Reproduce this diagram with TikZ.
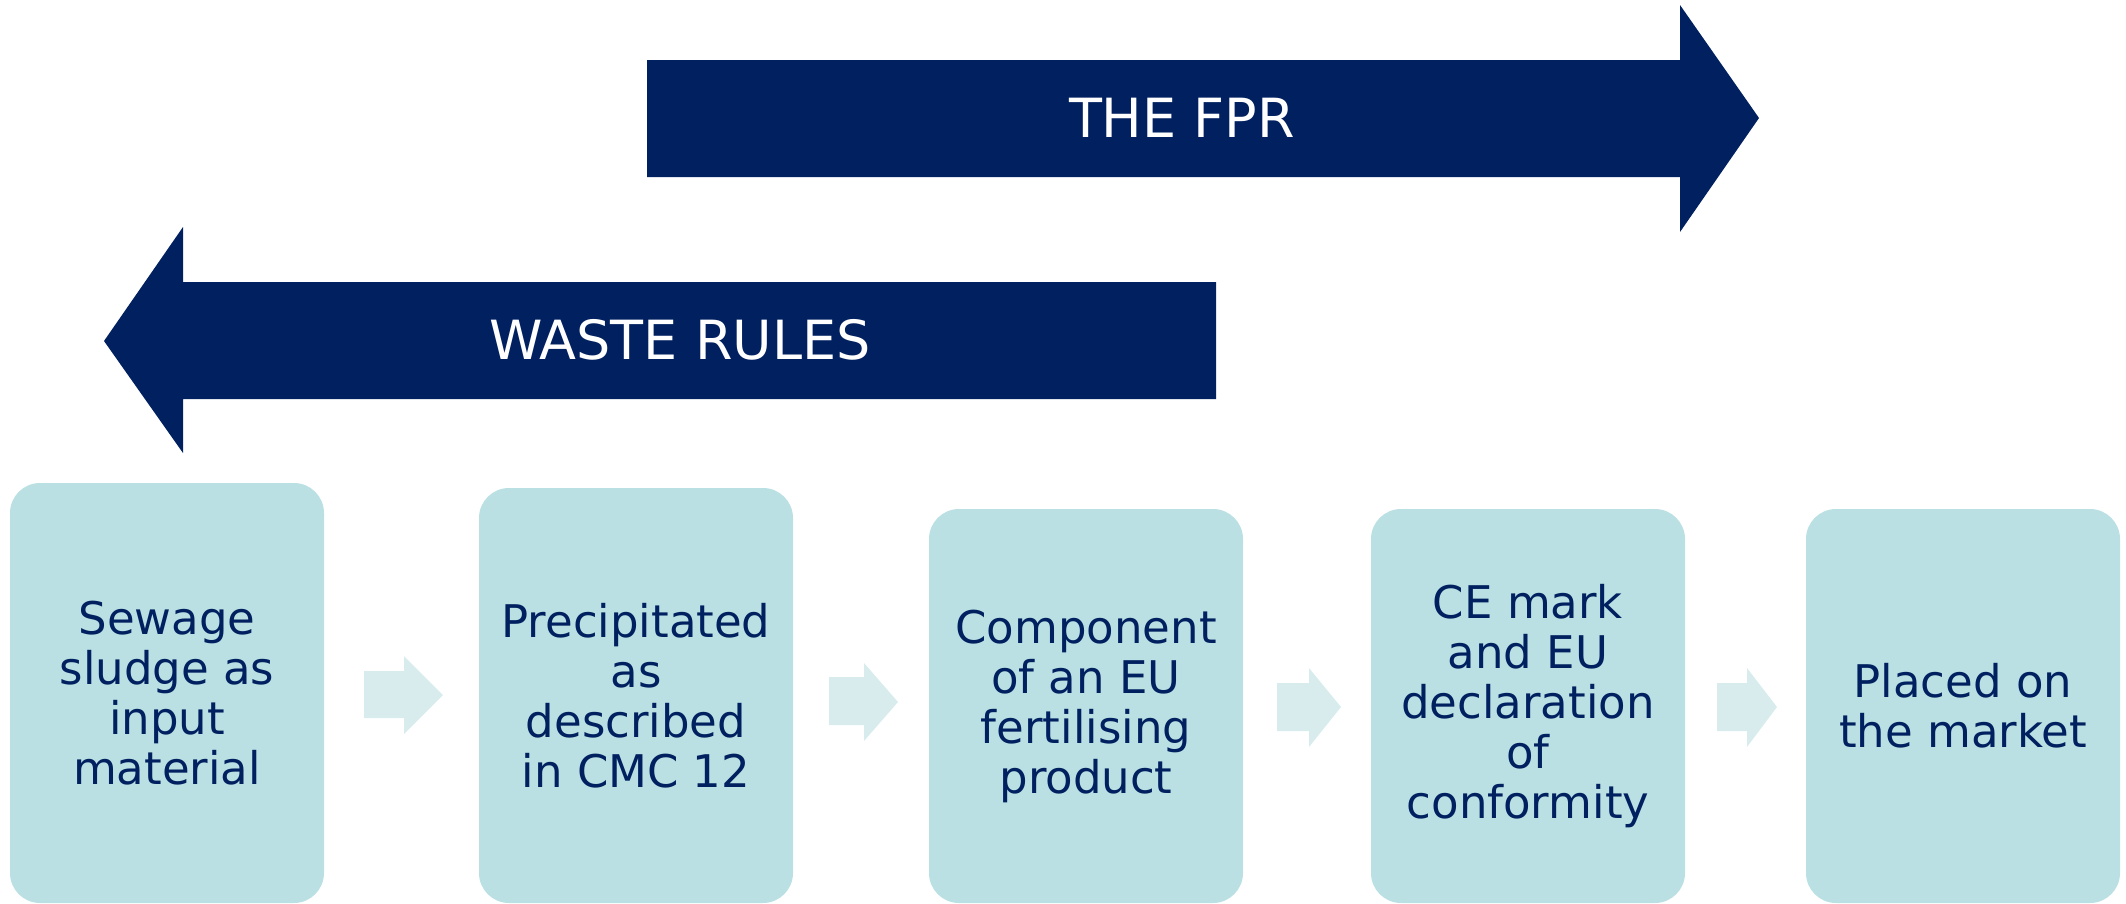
\documentclass[tikz,border=0pt]{standalone}
\usepackage{fontspec}
\setmainfont{DejaVu Sans}
\definecolor{navy}{HTML}{002060}
\definecolor{boxfill}{HTML}{BAE0E3}
\definecolor{smallarrow}{HTML}{D8ECEE}
\begin{document}
\begin{tikzpicture}[x=1pt,y=-1pt,
  bigarrow/.style={fill=navy,draw=none},
  biglabel/.style={text=white,font=\fontsize{54}{60}\selectfont,inner sep=0pt},
  stagebox/.style={fill=boxfill,draw=none,rounded corners=30pt,align=center,
    text=navy,font=\fontsize{45}{50}\selectfont,minimum width=314pt,inner sep=0pt},
  flowarrow/.style={fill=smallarrow,draw=none}]
\useasboundingbox (0,0) rectangle (2126,903);
% big arrows
\fill[bigarrow] (647,60) -- (1680,60) -- (1680,5) -- (1759,118) -- (1680,232) -- (1680,177) -- (647,177) -- cycle;
\node[biglabel] (fpr) at (1182,118) {THE FPR};
\fill[bigarrow] (1216,282) -- (183,282) -- (183,227) -- (104,341) -- (183,453) -- (183,399) -- (1216,399) -- cycle;
\node[biglabel] (waste) at (680,340) {WASTE RULES};
% stage boxes
\node[stagebox,minimum height=420pt] (b1) at (167,693) {Sewage\\sludge as\\input\\material};
\node[stagebox,minimum height=415pt] (b2) at (636,695.5) {Precipitated\\as\\described\\in CMC 12};
\node[stagebox,minimum height=394pt] (b3) at (1086,706) {Component\\of an EU\\fertilising\\product};
\node[stagebox,minimum height=394pt] (b4) at (1528,706) {CE mark\\and EU\\declaration\\of\\conformity};
\node[stagebox,minimum height=394pt] (b5) at (1963,706) {Placed on\\the market};
% small flow arrows
\fill[flowarrow] (364,671) -- (404,671) -- (404,656) -- (443,695) -- (404,734) -- (404,718) -- (364,718) -- cycle;
\fill[flowarrow] (829,677) -- (864,677) -- (864,663) -- (898,702) -- (864,741) -- (864,725) -- (829,725) -- cycle;
\fill[flowarrow] (1277,683) -- (1309,683) -- (1309,668) -- (1341,707) -- (1309,747) -- (1309,731) -- (1277,731) -- cycle;
\fill[flowarrow] (1717,683) -- (1747,683) -- (1747,668) -- (1777,707) -- (1747,747) -- (1747,731) -- (1717,731) -- cycle;
\end{tikzpicture}
\end{document}
